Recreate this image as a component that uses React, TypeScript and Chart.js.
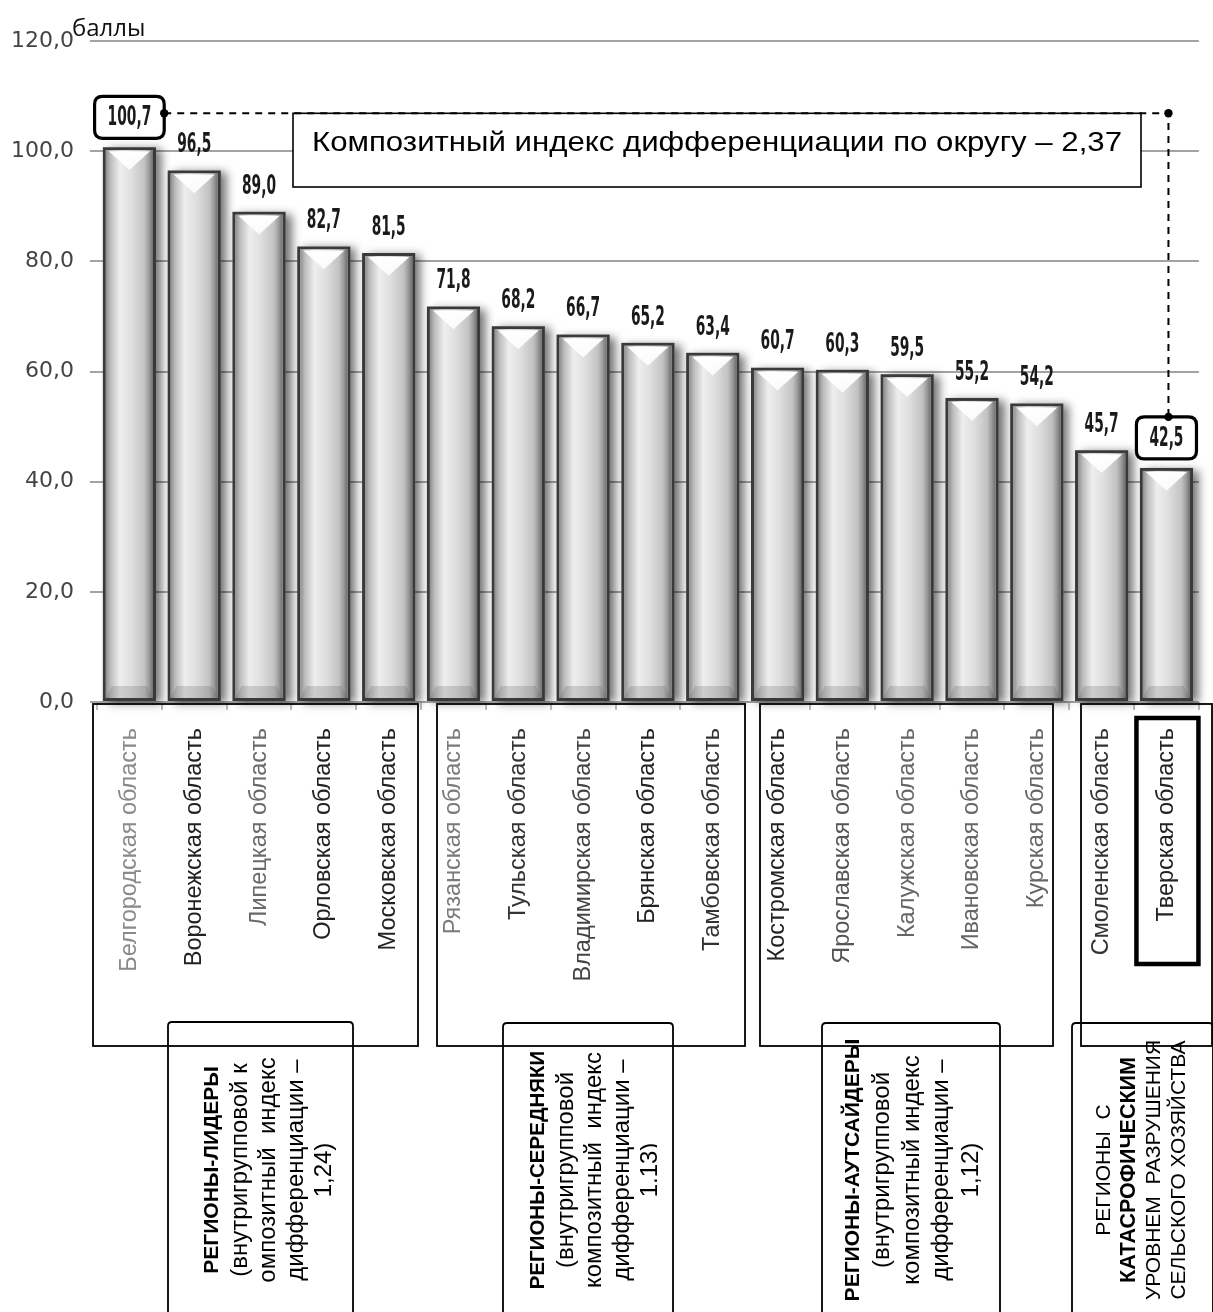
import React, { useEffect, useRef } from 'react';
import { Chart, registerables } from 'chart.js';

Chart.register(...registerables);

// ---------- data ----------
const categories = [
  'Белгородская область',
  'Воронежская область',
  'Липецкая область',
  'Орловская область',
  'Московская область',
  'Рязанская область',
  'Тульская область',
  'Владимирская область',
  'Брянская область',
  'Тамбовская область',
  'Костромская область',
  'Ярославская область',
  'Калужская область',
  'Ивановская область',
  'Курская область',
  'Смоленская область',
  'Тверская область',
];
const values = [100.7, 96.5, 89.0, 82.7, 81.5, 71.8, 68.2, 66.7, 65.2, 63.4, 60.7, 60.3, 59.5, 55.2, 54.2, 45.7, 42.5];
const yTickValues = [0, 20, 40, 60, 80, 100, 120];
const yTickLabels = ['0,0', '20,0', '40,0', '60,0', '80,0', '100,0', '120,0'];
const labelColors = ['#8a8a8a', '#222', '#6a6a6a', '#222', '#222', '#7a7a7a', '#333', '#444', '#222', '#333', '#222', '#555', '#666', '#666', '#666', '#333', '#222'];
const unitLabel = 'баллы';
const titleText = 'Композитный индекс дифференциации по округу – 2,37';
const boxedIndices = [0, 16];
const highlightedCategory = 16;
const groupTexts: { t: string; b?: boolean }[][] = [
  [{ t: 'РЕГИОНЫ-ЛИДЕРЫ', b: true }, { t: '(внутригрупповой к' }, { t: 'омпозитный  индекс' }, { t: 'дифференциации –' }, { t: '1,24)' }],
  [{ t: 'РЕГИОНЫ-СЕРЕДНЯКИ', b: true }, { t: '(внутригрупповой' }, { t: 'композитный  индекс' }, { t: 'дифференциации –' }, { t: '1,13)' }],
  [{ t: 'РЕГИОНЫ-АУТСАЙДЕРЫ', b: true }, { t: '(внутригрупповой' }, { t: 'композитный индекс' }, { t: 'дифференциации –' }, { t: '1,12)' }],
  [{ t: 'РЕГИОНЫ  С' }, { t: 'КАТАСРОФИЧЕСКИМ', b: true }, { t: 'УРОВНЕМ  РАЗРУШЕНИЯ' }, { t: 'СЕЛЬСКОГО ХОЗЯЙСТВА' }],
];

const fmt = (v: number) => v.toFixed(1).replace('.', ',');

// ---------- layout (pixels) ----------
const W = 1213;
const H = 1312;
const SANS = "'Liberation Sans', Arial, sans-serif";
const NARROW = "'Liberation Sans Narrow', 'DejaVu Sans Condensed', 'Liberation Sans', sans-serif";
const topBoxes = [
  [93, 704, 418, 1046],
  [437, 704, 745, 1046],
  [760, 704, 1053, 1046],
  [1081, 704, 1212, 1046],
];
const bottomBoxes = [
  { x0: 168, y0: 1022, x1: 353, lineX: 212, step: 28, size: 24, bsize: 21, clipX: 0 },
  { x0: 503, y0: 1023, x1: 673, lineX: 538, step: 28, size: 24, bsize: 20.5, clipX: 657 },
  { x0: 822, y0: 1023, x1: 1000, lineX: 853, step: 29.5, size: 24, bsize: 21, clipX: 0 },
  { x0: 1072, y0: 1023, x1: 1213, lineX: 1104, step: 25, size: 21, bsize: 21.5, clipX: 0 },
];

function roundRect(ctx: CanvasRenderingContext2D, x: number, y: number, w: number, h: number, r: number) {
  ctx.beginPath();
  ctx.moveTo(x + r, y);
  ctx.lineTo(x + w - r, y);
  ctx.quadraticCurveTo(x + w, y, x + w, y + r);
  ctx.lineTo(x + w, y + h - r);
  ctx.quadraticCurveTo(x + w, y + h, x + w - r, y + h);
  ctx.lineTo(x + r, y + h);
  ctx.quadraticCurveTo(x, y + h, x, y + h - r);
  ctx.lineTo(x, y + r);
  ctx.quadraticCurveTo(x, y, x + r, y);
  ctx.closePath();
}

const decorPlugin = {
  id: 'decor',
  beforeDatasetsDraw(chart: any) {
    const ctx: CanvasRenderingContext2D = chart.ctx;
    const meta = chart.getDatasetMeta(0);
    meta.data.forEach((el: any) => {
      const { x, y, base, width } = el.getProps(['x', 'y', 'base', 'width'], true);
      ctx.save();
      ctx.shadowColor = 'rgba(0,0,0,0.55)';
      ctx.shadowBlur = 9;
      ctx.shadowOffsetX = 6;
      ctx.shadowOffsetY = 2;
      ctx.fillStyle = '#777';
      ctx.fillRect(x - width / 2, y, width, base - y);
      ctx.restore();
    });
  },
  afterDatasetsDraw(chart: any) {
    const ctx: CanvasRenderingContext2D = chart.ctx;
    const meta = chart.getDatasetMeta(0);
    const bw = 3;
    meta.data.forEach((el: any) => {
      const { x, y, base, width } = el.getProps(['x', 'y', 'base', 'width'], true);
      const il = x - width / 2 + bw;
      const ir = x + width / 2 - bw;
      const it = y + bw;
      const ib = base - bw;
      const iw = ir - il;
      ctx.save();
      const g = ctx.createLinearGradient(il, 0, ir, 0);
      g.addColorStop(0, '#8e8e8e');
      g.addColorStop(0.1, '#bdbdbd');
      g.addColorStop(0.3, '#eeeeee');
      g.addColorStop(0.55, '#dedede');
      g.addColorStop(0.82, '#c2c2c2');
      g.addColorStop(0.92, '#9a9a9a');
      g.addColorStop(1, '#6e6e6e');
      ctx.fillStyle = g;
      ctx.fillRect(il, it, iw, ib - it);
      const tg = ctx.createLinearGradient(0, it, 0, it + iw * 0.42);
      tg.addColorStop(0, 'rgba(255,255,255,1)');
      tg.addColorStop(1, 'rgba(255,255,255,0.85)');
      ctx.fillStyle = tg;
      ctx.beginPath();
      ctx.moveTo(il + 3, it + 1);
      ctx.lineTo(ir - 3, it + 1);
      ctx.lineTo(x, it + iw * 0.42);
      ctx.closePath();
      ctx.fill();
      ctx.fillStyle = 'rgba(90,90,90,0.22)';
      ctx.beginPath();
      ctx.moveTo(il, ib);
      ctx.lineTo(ir, ib);
      ctx.lineTo(ir - 6, ib - 12);
      ctx.lineTo(il + 6, ib - 12);
      ctx.closePath();
      ctx.fill();
      ctx.restore();
    });
  },
  afterDraw(chart: any) {
    const ctx: CanvasRenderingContext2D = chart.ctx;
    const meta = chart.getDatasetMeta(0);
    const els = meta.data;

    ctx.save();
    ctx.fillStyle = '#111';
    ctx.font = "24px 'Open Sans', 'Liberation Sans', sans-serif";
    ctx.textAlign = 'left';
    ctx.textBaseline = 'alphabetic';
    ctx.fillText(unitLabel, 72, 36);
    ctx.restore();

    ctx.save();
    const lblFont = `bold 26px ${NARROW}`;
    ctx.font = lblFont;
    const digitW = ctx.measureText('0').width;
    const sx = 9.6 / digitW;
    const boxInfo: any[] = [];
    els.forEach((el: any, i: number) => {
      const { x, y } = el.getProps(['x', 'y'], true);
      const boxed = boxedIndices.includes(i);
      const cy = boxed ? y - 30 : y - 26;
      const txt = fmt(values[i]);
      ctx.font = lblFont;
      const tw = ctx.measureText(txt).width * sx;
      ctx.save();
      ctx.translate(x, cy);
      ctx.scale(sx, 1);
      ctx.fillStyle = '#1a1a1a';
      ctx.textAlign = 'center';
      ctx.textBaseline = 'middle';
      ctx.fillText(txt, 0, 1);
      ctx.restore();
      if (boxed) {
        const bwid = tw + 26;
        const bh = 42;
        ctx.save();
        ctx.lineWidth = 3.2;
        ctx.strokeStyle = '#000';
        roundRect(ctx, x - bwid / 2, cy - bh / 2, bwid, bh, 8);
        ctx.stroke();
        ctx.restore();
        boxInfo.push({ x, cy, w: bwid, h: bh });
      }
    });
    ctx.restore();

    const b0 = boxInfo[0];
    const b1 = boxInfo[1];
    const yD = b0.cy - 4;
    const xR = b1.x + 2;
    ctx.save();
    ctx.fillStyle = '#fff';
    ctx.strokeStyle = '#000';
    ctx.lineWidth = 1.6;
    ctx.fillRect(293, yD, 848, 187 - yD);
    ctx.strokeRect(293, yD, 848, 187 - yD);
    ctx.font = `28px ${SANS}`;
    const tW = ctx.measureText(titleText).width;
    const ts = 810 / tW;
    ctx.translate(717, 143);
    ctx.scale(ts, 1);
    ctx.fillStyle = '#000';
    ctx.textAlign = 'center';
    ctx.textBaseline = 'middle';
    ctx.fillText(titleText, 0, 0);
    ctx.restore();

    ctx.save();
    ctx.strokeStyle = '#000';
    ctx.lineWidth = 2;
    ctx.setLineDash([7, 6]);
    ctx.beginPath();
    ctx.moveTo(b0.x + b0.w / 2, yD);
    ctx.lineTo(xR, yD);
    ctx.lineTo(xR, b1.cy - b1.h / 2);
    ctx.stroke();
    ctx.setLineDash([]);
    ctx.fillStyle = '#000';
    [[b0.x + b0.w / 2, yD], [xR, yD], [xR, b1.cy - b1.h / 2]].forEach(([px, py]) => {
      ctx.beginPath();
      ctx.arc(px, py, 4.2, 0, Math.PI * 2);
      ctx.fill();
    });
    ctx.restore();

    ctx.save();
    ctx.strokeStyle = '#000';
    ctx.lineWidth = 1.8;
    topBoxes.forEach(([x0, y0, x1, y1]) => {
      ctx.strokeRect(x0, y0, x1 - x0, y1 - y0);
    });
    bottomBoxes.forEach((bb) => {
      roundRect(ctx, bb.x0, bb.y0, bb.x1 - bb.x0, 1340 - bb.y0, 4);
      ctx.stroke();
    });
    const hx = els[highlightedCategory].x;
    ctx.lineWidth = 4.5;
    ctx.strokeRect(hx - 30, 718, 62, 246);
    ctx.restore();

    bottomBoxes.forEach((bb, gi) => {
      const lines = groupTexts[gi];
      ctx.save();
      if (bb.clipX) {
        ctx.beginPath();
        ctx.rect(bb.x0, bb.y0 - 40, bb.clipX - bb.x0, 400);
        ctx.clip();
      }
      ctx.fillStyle = '#000';
      ctx.textAlign = 'center';
      ctx.textBaseline = 'middle';
      lines.forEach((ln, li) => {
        ctx.save();
        ctx.translate(bb.lineX + li * bb.step, 1170);
        ctx.rotate(-Math.PI / 2);
        ctx.font = ln.b ? `bold ${bb.bsize}px ${SANS}` : `${bb.size}px ${SANS}`;
        ctx.fillText(ln.t, 0, 0);
        ctx.restore();
      });
      ctx.restore();
    });
  },
};

export default function App() {
  const ref = useRef<HTMLCanvasElement | null>(null);
  useEffect(() => {
    document.body.style.margin = '0';
    document.body.style.overflow = 'hidden';
    if (!ref.current) return;
    const chart = new Chart(ref.current, {
      type: 'bar',
      data: {
        labels: categories,
        datasets: [
          {
            data: values,
            backgroundColor: '#d8d8d8',
            borderColor: '#3a3a3a',
            borderWidth: 3,
            borderSkipped: false,
            barPercentage: 0.82,
            categoryPercentage: 1,
          },
        ],
      },
      options: {
        animation: false,
        responsive: true,
        maintainAspectRatio: false,
        layout: { padding: { top: 41, right: 12, left: 0, bottom: 0 } },
        plugins: { legend: { display: false }, tooltip: { enabled: false }, title: { display: false } },
        scales: {
          x: {
            afterFit: (s: any) => {
              s.height = 610;
            },
            border: { display: false },
            grid: {
              display: true,
              drawOnChartArea: false,
              drawTicks: true,
              tickLength: 8,
              color: '#bdbdbd',
              lineWidth: 2,
              offset: true,
            },
            ticks: {
              autoSkip: false,
              minRotation: 90,
              maxRotation: 90,
              padding: 18,
              font: { family: SANS, size: 23.5 },
              color: (c: any) => labelColors[c.index] || '#222',
            },
          },
          y: {
            min: 0,
            max: 120,
            afterFit: (s: any) => {
              s.width = 97;
            },
            afterBuildTicks: (s: any) => {
              s.ticks = yTickValues.map((v) => ({ value: v }));
            },
            border: { display: false },
            grid: { color: '#a3a3a3', lineWidth: 2, tickLength: 7, drawTicks: true },
            ticks: {
              padding: 16,
              font: { family: "'DejaVu Sans', sans-serif", size: 22 },
              color: '#444',
              callback: (v: any) => {
                const i = yTickValues.indexOf(Number(v));
                return i >= 0 ? yTickLabels[i] : '';
              },
            },
          },
        },
      },
      plugins: [decorPlugin],
    });
    return () => chart.destroy();
  }, []);
  return (
    <div style={{ position: 'relative', width: W, height: H }}>
      <canvas ref={ref} />
    </div>
  );
}
